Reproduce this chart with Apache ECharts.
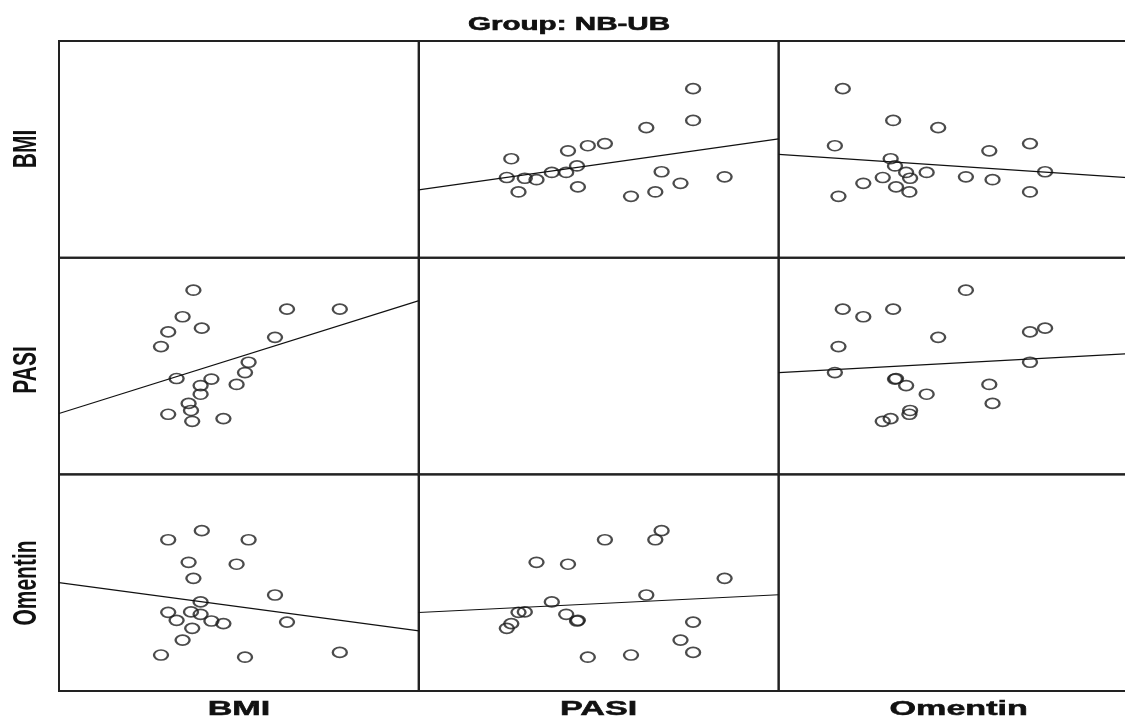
<!DOCTYPE html>
<html>
<head>
<meta charset="utf-8">
<title>Group: NB-UB</title>
<script src="https://cdn.jsdelivr.net/npm/echarts@6/dist/echarts.min.js"></script>
<style>
  html, body { margin: 0; padding: 0; background: #fff; overflow: hidden; }
  /* wider than the window: the third column runs past the right edge */
  #chart { width: 1145px; height: 719px; }
</style>
</head>
<body>
<div id="chart"></div>
<script>
// variables of the scatterplot matrix, one value per subject
const varNames = ['BMI', 'PASI', 'Omentin']
const bmi = [38.4, 34.0, 33.0, 30.8, 30.5, 29.8, 28.7, 27.7, 26.9, 26.8,
  26.8, 26.2, 26.1, 26.0, 25.8, 25.3, 24.8, 24.1, 24.1, 23.5]
const pasi = [30.5, 30.5, 25.3, 20.7, 18.8, 16.6, 10.3, 17.6, 27.0, 14.8,
  16.4, 34.0, 9.8, 11.8, 13.1, 29.1, 17.7, 26.3, 11.1, 23.6]
const omentin = [17.8, 31.8, 44.3, 69.8, 15.6, 58.5, 31.1, 32.3, 74.0, 41.1,
  35.4, 52.0, 28.9, 36.5, 59.4, 23.5, 32.6, 69.8, 36.3, 16.6]
const axisMin = [15, 0, 0]
const axisMax = [45, 40, 100]

const values = [bmi, pasi, omentin]

// cell layout
const colLeft = [59, 418.6, 778.7]
const rowTop = [41, 257.7, 474.3]
const cellW = 360
const cellH = 216.7

function fitLine (xs, ys) {
  let n = xs.length
  let mx = xs.reduce((a, b) => a + b, 0) / n
  let my = ys.reduce((a, b) => a + b, 0) / n
  let sxy = 0
  let sxx = 0
  for (let i = 0; i < n; i++) {
    sxy += (xs[i] - mx) * (ys[i] - my)
    sxx += (xs[i] - mx) * (xs[i] - mx)
  }
  let slope = sxy / sxx
  return { slope: slope, intercept: my - slope * mx }
}

let grids = []
let xAxes = []
let yAxes = []
let series = []

for (let r = 0; r < 3; r++) {
  for (let c = 0; c < 3; c++) {
    let idx = grids.length
    grids.push({
      left: colLeft[c],
      top: rowTop[r],
      width: cellW,
      height: cellH,
      outerBoundsMode: 'none',
      show: true,
      borderColor: '#222',
      borderWidth: 2,
      backgroundColor: 'transparent'
    })
    xAxes.push({ gridIndex: idx, type: 'value', min: axisMin[c], max: axisMax[c], show: false })
    yAxes.push({ gridIndex: idx, type: 'value', min: axisMin[r], max: axisMax[r], show: false })
    if (r === c) continue

    let xs = values[c]
    let ys = values[r]
    series.push({
      type: 'scatter',
      xAxisIndex: idx,
      yAxisIndex: idx,
      symbol: 'circle',
      symbolSize: [14, 10],
      itemStyle: {
        color: 'rgba(0,0,0,0)',
        borderColor: '#1e1e1e',
        borderWidth: 2
      },
      silent: true,
      data: xs.map((x, i) => [x, ys[i]])
    })
    let fit = fitLine(xs, ys)
    series.push({
      type: 'line',
      xAxisIndex: idx,
      yAxisIndex: idx,
      symbol: 'none',
      silent: true,
      clip: true,
      lineStyle: { color: '#111', width: 1.2 },
      data: [
        [axisMin[c], fit.intercept + fit.slope * axisMin[c]],
        [axisMax[c], fit.intercept + fit.slope * axisMax[c]]
      ]
    })
  }
}

const labelFont = '"Liberation Sans", Arial, sans-serif'
let graphics = [{
  type: 'text',
  x: 569,
  y: 25,
  scaleX: 1.6,
  style: {
    text: 'Group: NB-UB',
    font: 'bold 18.5px ' + labelFont,
    fill: '#111',
    stroke: '#111',
    lineWidth: 0.6,
    align: 'center',
    verticalAlign: 'middle'
  }
}]
const leftLabelY = [149, 370, 583]
varNames.forEach((name, i) => {
  graphics.push({
    type: 'text',
    x: colLeft[i] + cellW / 2,
    y: 710,
    scaleX: 1.75,
    style: {
      text: name,
      font: 'bold 19.5px ' + labelFont,
      fill: '#111',
      stroke: '#111',
      lineWidth: 0.5,
      align: 'center',
      verticalAlign: 'middle'
    }
  })
  graphics.push({
    type: 'text',
    x: 27,
    y: leftLabelY[i],
    rotation: Math.PI / 2,
    scaleX: 1,
    scaleY: 1.55,
    style: {
      text: name,
      font: 'bold 21px ' + labelFont,
      fill: '#111',
      align: 'center',
      verticalAlign: 'middle'
    }
  })
})

let option = {
  animation: false,
  backgroundColor: '#fff',
  grid: grids,
  xAxis: xAxes,
  yAxis: yAxes,
  series: series,
  graphic: graphics
}

let chart = echarts.init(document.getElementById('chart'))
chart.setOption(option)
</script>
</body>
</html>
